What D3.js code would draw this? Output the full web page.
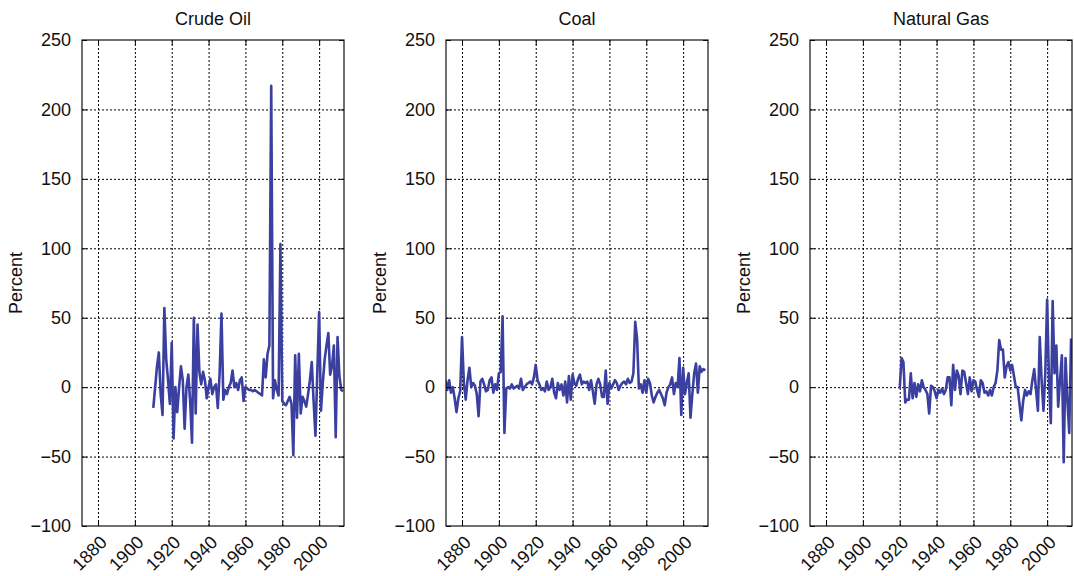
<!DOCTYPE html>
<html>
<head>
<meta charset="utf-8">
<script src="https://cdn.jsdelivr.net/npm/d3@7"></script>
<style>
  body { margin: 0; background: #fff; }
  text { font-family: "Liberation Sans", Arial, sans-serif; fill: #111; }
  .grid line { stroke: #000; stroke-width: 1; stroke-dasharray: 2,2; }
  .grid path { display: none; }
  .ticks path { display: none; }
  .ticks line { stroke: #000; stroke-width: 1; }
</style>
</head>
<body>
<svg id="chart" width="1074" height="576"></svg>
<script>

// annual percent changes
var oilStart = 1910;
var oilValues = [
  -15, 0, 15, 25, -5, -20, 57, 20, 5, -12,
  32, -37, 0, -18, 0, 15, 5, -30, 0, 9,
  -10, -40, 50, -19, 45, 11, 2, 11, 5, -8,
  0, 6, -5, 0, 2, -15, 10, 53, -9, -2,
  -5, 0, 3, 12, 0, 3, -2, 5, 7, -10,
  0, -1, -2, -2, -3, -2, -3, -4, -5, -6,
  20, 7, 24, 30, 217, -8, 5, -2, -6, 103,
  -10, -12, -13, -10, -7, -12, -49, 23, -22, 24,
  -19, -7, -10, -14, -5, 5, 18, -10, -35, 10,
  54, -17, 3, 20, 30, 39, 9, 15, 30, -36,
  36, 8, -2, -3
];

var coalStart = 1871;
var coalValues = [
  5, -2, 5, -4, 0, -8, -18, -8, -3,
  36, 3, -9, 5, 14, 0, 3, 1, -5, -21,
  4, 6, 2, -3, -2, 5, 7, -4, 2, -2,
  10, 11, 51, -33, -1, 0, -1, 2, -1, 0,
  1, -1, 6, -2, 0, 2, 3, 4, 2, 7,
  16, 5, 2, -2, -1, -3, 4, -2, 0, 6,
  -4, -8, 3, -2, 2, -6, 4, -11, 8, -9,
  9, 3, 1, 6, 9, 2, 4, 3, 4, -2,
  5, -3, -12, 2, 6, 2, -7, -7, 12, -12,
  3, -1, 2, 5, 3, -2, 1, 3, 4, 2,
  6, 3, 4, 10, 47, 35, -1, 2, -4, 5,
  -4, 6, 3, -6, -11, -7, -4, -2, -5, -8,
  -13, -4, 0, 2, 7, -5, 3, 0, 21, -20,
  14, -5, 3, 10, -22, -5, 10, 17, -4, 15,
  11, 13, 12
];

var gasStart = 1920;
var gasValues = [
  -1, 21, 18, -11, -9, -9, 10, -8, 3, -7,
  2, -3, 5, 0, -2, -5, -19, 1, 0, -3,
  -8, -2, -4, -1, -5, -2, 7, 7, -13, 16,
  -2, 12, 8, -5, 12, 11, 3, -5, 7, -3,
  5, 4, -2, -7, 5, 3, -4, -3, -6, -2,
  -6, 0, 3, 12, 34, 27, 27, 7, 15, 18,
  12, 16, 8, 0, 0, -12, -24, -10, -2, -6,
  -3, -5, 5, 13, -2, -17, 36, 5, -17, 10,
  63, 5, -26, 62, 10, 30, -14, 5, 23, -54,
  21, -10, -33, 35
];

var titles = ["Crude Oil", "Coal", "Natural Gas"];
var yTicks = [-100, -50, 0, 50, 100, 150, 200, 250];
var xTicks = [1880, 1900, 1920, 1940, 1960, 1980, 2000];

var series = [
  { start: oilStart, values: oilValues },
  { start: coalStart, values: coalValues },
  { start: gasStart, values: gasValues }
];

var svg = d3.select("#chart");
var panelLeft = [82, 446, 810];
var plotTop = 40, width = 262, height = 486;

var x = d3.scaleLinear().domain([1871.3, 2013.5]).range([0, width]);
var y = d3.scaleLinear().domain([-100, 250]).range([height, 0]);

var line = d3.line()
  .x(d => x(d.year))
  .y(d => y(d.value));

series.forEach(function(s, i) {
  var g = svg.append("g")
    .attr("transform", `translate(${panelLeft[i]}, ${plotTop})`);

  // dotted grid
  g.append("g")
    .attr("class", "grid")
    .attr("transform", `translate(0, ${height})`)
    .call(d3.axisBottom(x).tickValues(xTicks).tickSize(-height).tickFormat(""));
  g.append("g")
    .attr("class", "grid")
    .call(d3.axisLeft(y).tickValues(yTicks.slice(1, -1)).tickSize(-width).tickFormat(""));

  var data = s.values.map((v, k) => ({ year: s.start + k, value: v }));

  g.append("defs").append("clipPath")
    .attr("id", "clip" + i)
    .append("rect")
    .attr("width", width)
    .attr("height", height);

  g.append("path")
    .datum(data)
    .attr("clip-path", `url(#clip${i})`)
    .attr("fill", "none")
    .attr("stroke", "#3a3fa0")
    .attr("stroke-width", 2.6)
    .attr("stroke-linejoin", "round")
    .attr("d", line);

  // inward ticks on every side
  var bottom = g.append("g")
    .attr("class", "ticks")
    .attr("transform", `translate(0, ${height})`)
    .call(d3.axisBottom(x).tickValues(xTicks).tickSizeInner(-5).tickSizeOuter(0).tickFormat(d3.format("d")));
  bottom.selectAll("text")
    .attr("x", 0)
    .attr("y", 0)
    .attr("dy", "0.35em")
    .attr("text-anchor", "end")
    .attr("transform", "translate(5, 13) rotate(-45)")
    .style("font-size", "18px");

  g.append("g")
    .attr("class", "ticks")
    .call(d3.axisTop(x).tickValues(xTicks).tickSizeInner(-5).tickSizeOuter(0).tickFormat(""));

  var left = g.append("g")
    .attr("class", "ticks")
    .call(d3.axisLeft(y).tickValues(yTicks).tickSizeInner(-5).tickSizeOuter(0).tickPadding(11));
  left.selectAll("text").style("font-size", "18px");

  g.append("g")
    .attr("class", "ticks")
    .attr("transform", `translate(${width}, 0)`)
    .call(d3.axisRight(y).tickValues(yTicks).tickSizeInner(-5).tickSizeOuter(0).tickFormat(""));

  g.append("rect")
    .attr("width", width)
    .attr("height", height)
    .attr("fill", "none")
    .attr("stroke", "#111")
    .attr("stroke-width", 1.2);

  g.append("text")
    .attr("x", width / 2)
    .attr("y", -15)
    .attr("text-anchor", "middle")
    .style("font-size", "18px")
    .text(titles[i]);

  g.append("text")
    .attr("transform", "rotate(-90)")
    .attr("x", -height / 2)
    .attr("y", -60)
    .attr("text-anchor", "middle")
    .style("font-size", "18px")
    .text("Percent");
});

</script>
</body>
</html>
